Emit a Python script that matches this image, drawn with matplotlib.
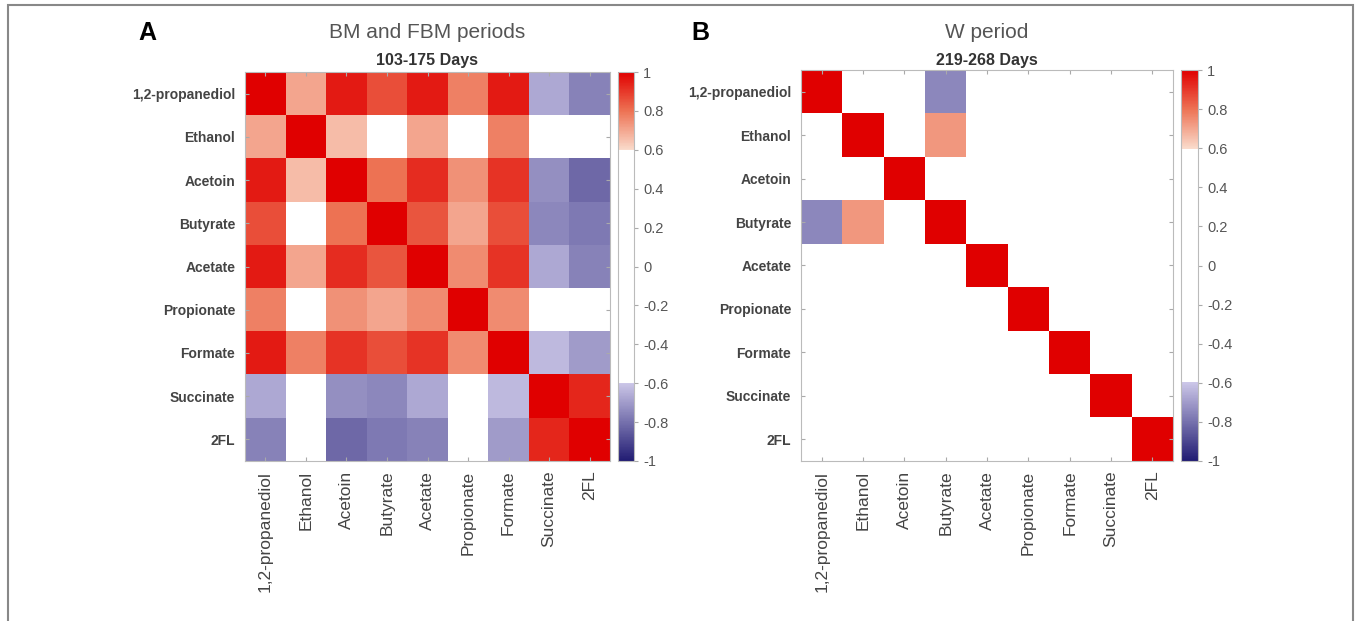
import numpy as np
import matplotlib
matplotlib.use("Agg")
import matplotlib.pyplot as plt
from matplotlib.colors import LinearSegmentedColormap
from matplotlib.patches import Rectangle

plt.rcParams['font.family'] = ['Liberation Sans Narrow', 'Liberation Sans', 'DejaVu Sans']

metabolites = ["1,2-propanediol", "Ethanol", "Acetoin", "Butyrate", "Acetate",
               "Propionate", "Formate", "Succinate", "2FL"]

# Spearman correlations, non-significant pairs stored as 0
corr_bm_fbm = [
    [1.00, 0.70, 0.95, 0.86, 0.95, 0.77, 0.95, -0.67, -0.76],
    [0.70, 1.00, 0.66, 0.00, 0.70, 0.00, 0.77, 0.00, 0.00],
    [0.95, 0.66, 1.00, 0.80, 0.92, 0.74, 0.91, -0.73, -0.82],
    [0.86, 0.00, 0.80, 1.00, 0.85, 0.70, 0.86, -0.75, -0.78],
    [0.95, 0.70, 0.92, 0.85, 1.00, 0.75, 0.91, -0.67, -0.76],
    [0.77, 0.00, 0.74, 0.70, 0.75, 1.00, 0.75, 0.00, 0.00],
    [0.95, 0.77, 0.91, 0.86, 0.91, 0.75, 1.00, -0.63, -0.70],
    [-0.67, 0.00, -0.73, -0.75, -0.67, 0.00, -0.63, 1.00, 0.93],
    [-0.76, 0.00, -0.82, -0.78, -0.76, 0.00, -0.70, 0.93, 1.00],
]

corr_w = [
    [1.00, 0.00, 0.00, -0.75, 0.00, 0.00, 0.00, 0.00, 0.00],
    [0.00, 1.00, 0.00, 0.73, 0.00, 0.00, 0.00, 0.00, 0.00],
    [0.00, 0.00, 1.00, 0.00, 0.00, 0.00, 0.00, 0.00, 0.00],
    [-0.75, 0.73, 0.00, 1.00, 0.00, 0.00, 0.00, 0.00, 0.00],
    [0.00, 0.00, 0.00, 0.00, 1.00, 0.00, 0.00, 0.00, 0.00],
    [0.00, 0.00, 0.00, 0.00, 0.00, 1.00, 0.00, 0.00, 0.00],
    [0.00, 0.00, 0.00, 0.00, 0.00, 0.00, 1.00, 0.00, 0.00],
    [0.00, 0.00, 0.00, 0.00, 0.00, 0.00, 0.00, 1.00, 0.00],
    [0.00, 0.00, 0.00, 0.00, 0.00, 0.00, 0.00, 0.00, 1.00],
]

panels = [
    ("A", "BM and FBM periods", "103-175 Days", corr_bm_fbm),
    ("B", "W period", "219-268 Days", corr_w),
]

cbar_ticks = [-1, -0.8, -0.6, -0.4, -0.2, 0, 0.2, 0.4, 0.6, 0.8, 1]

# blue below -0.6, white in between, red above 0.6
cmap = LinearSegmentedColormap.from_list("thresh", [
    (0.0, (0.13, 0.11, 0.45)),
    (0.2, (0.80, 0.78, 0.91)),
    (0.2001, (1, 1, 1)),
    (0.7999, (1, 1, 1)),
    (0.8, (0.98, 0.86, 0.80)),
    (0.9, (0.93, 0.45, 0.33)),
    (1.0, (0.88, 0.0, 0.0)),
], N=512)

fig = plt.figure(figsize=(13.56, 6.21), dpi=100)

W, H = 1356, 621
layout = [
    # heatmap (left, top, right, bottom), colorbar (left, right), letter x
    ((245, 72, 610, 461), (618, 634), 147),
    ((801, 70, 1173, 461), (1181, 1198), 700),
]

grey = "#444444"
for (letter, title, sub, data), (box, cb, lx) in zip(panels, layout):
    l, t, r, b = box
    ax = fig.add_axes([l / W, 1 - b / H, (r - l) / W, (b - t) / H])
    im = ax.imshow(np.array(data), cmap=cmap, vmin=-1, vmax=1, aspect="auto",
                   interpolation="nearest")
    n = len(metabolites)
    ax.set_xticks(range(n))
    ax.set_yticks(range(n))
    ax.set_xticklabels(metabolites, rotation=90, fontsize=12.5, color=grey,
                       fontweight="medium", va="top")
    ax.set_yticklabels(metabolites, fontsize=10, color=grey, fontweight="bold")
    ax.tick_params(direction="in", length=3, color="#aaaaaa", top=True, right=True,
                   pad=7)
    for s in ax.spines.values():
        s.set_color("#bbbbbb")
        s.set_linewidth(0.8)

    cax = fig.add_axes([cb[0] / W, 1 - b / H, (cb[1] - cb[0]) / W, (b - t) / H])
    cbar = fig.colorbar(im, cax=cax, ticks=cbar_ticks)
    cbar.ax.set_yticklabels([f"{v:g}" for v in cbar_ticks])
    cbar.ax.tick_params(labelsize=10.5, labelcolor="#555555", color="#aaaaaa",
                        length=3, width=0.8)
    cbar.outline.set_edgecolor("#bbbbbb")
    cbar.outline.set_linewidth(0.8)

    cx = (l + r) / 2 / W
    fig.text(lx / W, 1 - 33 / H, letter, fontsize=18, fontweight="bold",
             family=["Liberation Sans", "DejaVu Sans"], ha="center", va="center")
    fig.text(cx, 1 - 32 / H, title, fontsize=15, color="#555555",
             family=["Liberation Sans", "DejaVu Sans"], ha="center", va="center")
    fig.text(cx, 1 - 60 / H, sub, fontsize=11.5, fontweight="bold", color="#333333",
             ha="center", va="center")

# thin outer frame
fig.patches.append(Rectangle((8 / W, -0.1), (1353 - 8) / W, 1.1 - 5 / H,
                             transform=fig.transFigure, fill=False,
                             edgecolor="#888888", linewidth=1.5))

fig.savefig("out.png", dpi=100)
